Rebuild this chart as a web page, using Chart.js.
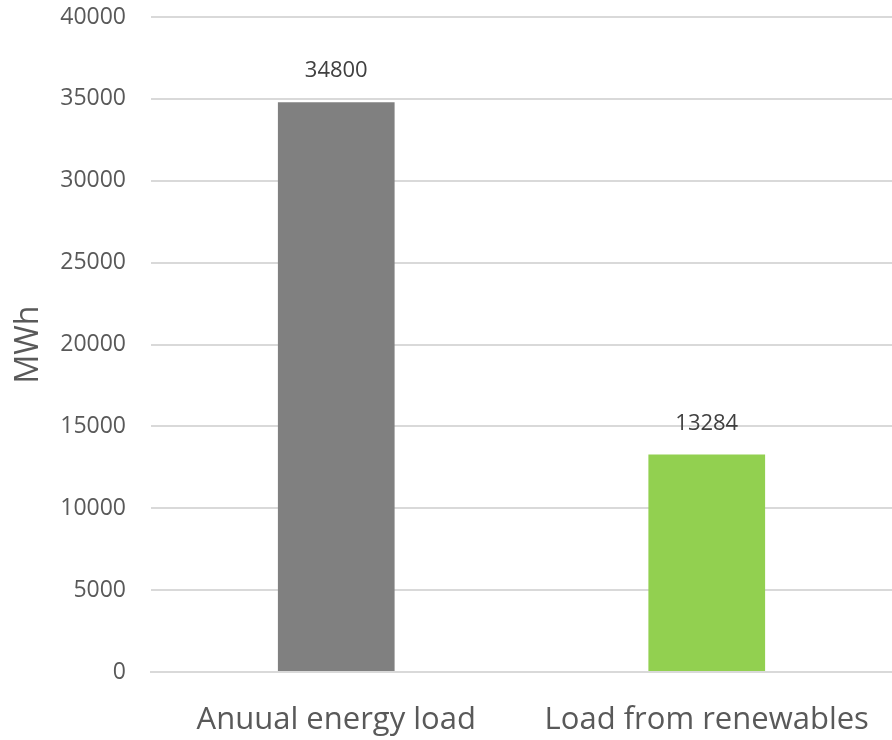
<!DOCTYPE html>
<html>
<head>
<meta charset="utf-8">
<script src="https://cdn.jsdelivr.net/npm/chart.js@4"></script>
<style>
  html, body { margin: 0; padding: 0; background: #ffffff; }
  #wrap { width: 892px; height: 740px; position: relative; }
</style>
</head>
<body>
<div id="wrap"><canvas id="chart" width="892" height="740"></canvas></div>
<script>
// Annual energy load vs. the share covered by renewables (MWh)
const categories = ['Anuual energy load', 'Load from renewables'];
const energyValues = [34800, 13284];
const barColors = ['#808080', '#92d050'];
const yTicks = [0, 5000, 10000, 15000, 20000, 25000, 30000, 35000, 40000];

const FONT = '"Open Sans", "Noto Sans", sans-serif';

// Writes each bar's value just above it
const valueLabels = {
  id: 'valueLabels',
  afterDatasetsDraw(chart) {
    const ctx = chart.ctx;
    const meta = chart.getDatasetMeta(0);
    ctx.save();
    ctx.font = '22px ' + FONT;
    ctx.fillStyle = '#404040';
    ctx.textAlign = 'center';
    ctx.textBaseline = 'middle';
    meta.data.forEach((bar, i) => {
      const p = bar.getProps(['x', 'y'], true);
      ctx.fillText(String(energyValues[i]), p.x, p.y - 31);
    });
    ctx.restore();
  }
};

new Chart(document.getElementById('chart'), {
  type: 'bar',
  data: {
    labels: categories,
    datasets: [{
      data: energyValues,
      backgroundColor: barColors,
      borderWidth: 0,
      categoryPercentage: 1.0,
      barPercentage: 0.315
    }]
  },
  options: {
    responsive: false,
    animation: false,
    layout: { padding: 0 },
    plugins: {
      legend: { display: false },
      tooltip: { enabled: false }
    },
    scales: {
      x: {
        grid: { display: false, drawTicks: false },
        border: { display: true, color: '#d9d9d9', width: 2 },
        ticks: {
          color: '#595959',
          font: { family: FONT, size: 31 },
          padding: 30,
          maxRotation: 0
        },
        afterFit(scale) {
          scale.height = 68;
          scale.paddingLeft = 0;
          scale.paddingRight = 0;
        }
      },
      y: {
        min: 0,
        max: 40000,
        afterBuildTicks(scale) { scale.ticks = yTicks.map(v => ({ value: v })); },
        grid: { color: '#d9d9d9', lineWidth: 2, drawTicks: false },
        border: { display: false },
        ticks: {
          color: '#595959',
          font: { family: FONT, size: 23 },
          padding: 25,
          callback: (v) => String(v)
        },
        title: {
          display: true,
          text: 'MWh',
          color: '#595959',
          font: { family: FONT, size: 32 },
          padding: { top: 10, bottom: 8 }
        },
        afterFit(scale) {
          scale.width = 151;
          scale.paddingTop = 17;
          scale.paddingBottom = 0;
        }
      }
    }
  },
  plugins: [valueLabels]
});
</script>
</body>
</html>
